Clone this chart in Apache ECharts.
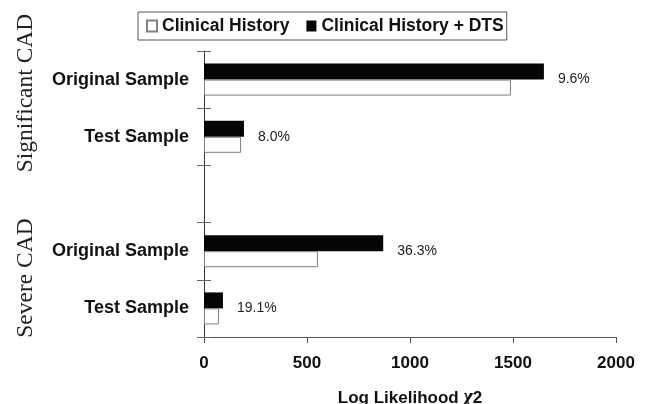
<!DOCTYPE html>
<html lang="en">
<head>
  <meta charset="UTF-8">
  <title>Log Likelihood Chi2 - Clinical History vs DTS</title>
  <script src="https://cdn.jsdelivr.net/npm/echarts@6/dist/echarts.min.js"></script>
  <style>
    html, body {
      margin: 0;
      padding: 0;
      background: #ffffff;
    }
    #chart {
      width: 650px;
      height: 404px;
    }
  </style>
</head>
<body>
  <div id="chart"></div>

  <script>
    // categories, top to bottom (the empty one is the gap between the two groups)
    const categories = ['sigOriginal', 'sigTest', 'gap', 'sevOriginal', 'sevTest'];
    const catLabels = ['Original Sample', 'Test Sample', '', 'Original Sample', 'Test Sample'];

    // log likelihood chi2 values
    const historyVals = [1490, 180, null, 553, 73];
    const dtsVals = [1650, 194, null, 870, 92];
    const pctLabels = ['9.6%', '8.0%', '', '36.3%', '19.1%'];

    const xTicks = [0, 500, 1000, 1500, 2000];
    const groupTitles = ['Significant CAD', 'Severe CAD'];

    const chart = echarts.init(document.getElementById('chart'));

    const option = {
      animation: false,
      backgroundColor: '#ffffff',
      grid: {
        left: 204,
        top: 51,
        width: 412,
        height: 286,
        outerBoundsMode: 'none'
      },
      legend: {
        left: 138,
        top: 12,
        selectedMode: false,
        icon: 'rect',
        itemWidth: 10,
        itemHeight: 11,
        itemGap: 17,
        padding: [5, 3, 5, 8],
        borderColor: '#555',
        borderWidth: 1,
        textStyle: {
          fontFamily: 'Liberation Sans, Arial, sans-serif',
          fontWeight: 'bold',
          fontSize: 17.5,
          color: '#111'
        },
        data: ['Clinical History', 'Clinical History + DTS']
      },
      xAxis: {
        type: 'value',
        min: xTicks[0],
        max: xTicks[xTicks.length - 1],
        interval: 500,
        splitLine: { show: false },
        axisLine: { show: true, lineStyle: { color: '#555', width: 1 } },
        axisTick: { show: true, length: 6, lineStyle: { color: '#555' } },
        axisLabel: {
          margin: 18,
          fontFamily: 'Liberation Sans, Arial, sans-serif',
          fontWeight: 'bold',
          fontSize: 17,
          color: '#111',
          formatter: function (v) {
            return String(v);
          }
        },
        name: 'Log Likelihood {c|χ}2',
        nameLocation: 'middle',
        nameGap: 51,
        nameTextStyle: {
          fontFamily: 'Liberation Sans, Arial, sans-serif',
          fontWeight: 'bold',
          fontSize: 17,
          color: '#111',
          rich: {
            c: {
              fontFamily: 'Liberation Serif, serif',
              fontStyle: 'italic',
              fontWeight: 'bold',
              fontSize: 20,
              color: '#111'
            }
          }
        }
      },
      yAxis: [
        {
          type: 'category',
          inverse: true,
          data: categories,
          axisLine: { show: true, lineStyle: { color: '#333', width: 1 } },
          axisTick: { show: true, length: 7, lineStyle: { color: '#666' } },
          axisLabel: {
            margin: 15,
            fontFamily: 'Liberation Sans, Arial, sans-serif',
            fontWeight: 'bold',
            fontSize: 18,
            color: '#111',
            formatter: function (value, index) {
              return catLabels[index];
            }
          }
        },
        {
          // second copy only to draw the tick half inside the plot
          type: 'category',
          inverse: true,
          position: 'left',
          offset: 0,
          data: categories,
          axisLine: { show: false },
          axisTick: { show: true, inside: true, length: 7, lineStyle: { color: '#666' } },
          axisLabel: { show: false }
        }
      ],
      graphic: [
        {
          type: 'text',
          x: 26,
          y: 93,
          rotation: Math.PI / 2,
          style: {
            text: groupTitles[0],
            font: '23.5px "Liberation Serif", "Times New Roman", serif',
            fill: '#222',
            textAlign: 'center',
            textVerticalAlign: 'middle'
          }
        },
        {
          type: 'text',
          x: 26,
          y: 278,
          rotation: Math.PI / 2,
          style: {
            text: groupTitles[1],
            font: '23.5px "Liberation Serif", "Times New Roman", serif',
            fill: '#222',
            textAlign: 'center',
            textVerticalAlign: 'middle'
          }
        }
      ],
      series: [
        // DTS first so it sits on top within each band (inverse axis)
        {
          name: 'Clinical History + DTS',
          type: 'bar',
          yAxisIndex: 0,
          barWidth: 16,
          barGap: '0%',
          data: dtsVals,
          itemStyle: {
            color: '#050505'
          },
          label: {
            show: true,
            position: 'right',
            distance: 14,
            offset: [0, 8],
            fontFamily: 'Liberation Sans, Arial, sans-serif',
            fontSize: 14,
            color: '#222',
            formatter: function (params) {
              return pctLabels[params.dataIndex];
            }
          }
        },
        {
          name: 'Clinical History',
          type: 'bar',
          yAxisIndex: 0,
          barWidth: 16,
          barGap: '0%',
          data: historyVals,
          itemStyle: {
            color: '#ffffff',
            borderColor: '#808080',
            borderWidth: 1
          }
        }
      ]
    };

    chart.setOption(option);
  </script>
</body>
</html>
